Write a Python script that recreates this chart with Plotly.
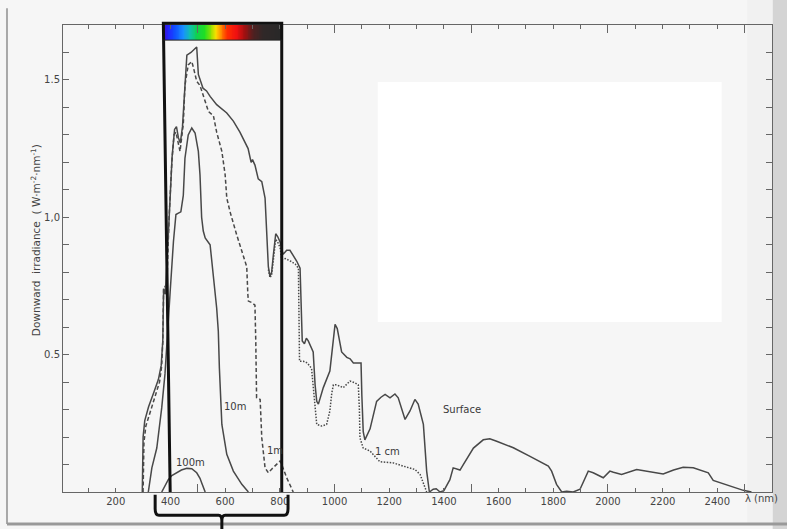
import plotly.graph_objects as go

# ---------------- data ----------------
surface_nm = [297, 300, 306, 320, 340, 356, 366, 372, 375, 381, 388, 397, 406, 415, 422, 429, 436, 444,
              452, 460, 475, 496, 502, 519, 532, 545, 569, 606, 630, 654, 684, 695, 700, 709, 721, 734,
              746, 752, 758, 764, 770, 776, 785, 792, 801, 812, 825, 837, 850, 862, 874, 878, 882, 890,
              897, 904, 916, 922, 929, 935, 941, 950, 959, 983, 995, 1002, 1010, 1018, 1026, 1045, 1057,
              1069, 1097, 1100, 1105, 1111, 1130, 1154, 1170, 1185, 1203, 1221, 1233, 1258, 1276, 1294,
              1306, 1325, 1337, 1347, 1361, 1372, 1386, 1400, 1422, 1434, 1459, 1471, 1508, 1544, 1568,
              1593, 1654, 1715, 1782, 1794, 1812, 1831, 1849, 1873, 1898, 1928, 1946, 1983, 2007, 2020,
              2050, 2105, 2150, 2202, 2240, 2275, 2312, 2367, 2385, 2446, 2495, 2525]
surface_E = [0.0, 0.2, 0.26, 0.31, 0.365, 0.41, 0.46, 0.55, 0.74, 0.72, 0.85, 1.05, 1.22, 1.32, 1.33, 1.29,
             1.27, 1.33, 1.48, 1.59, 1.60, 1.62, 1.52, 1.47, 1.46, 1.44, 1.41, 1.38, 1.35, 1.31, 1.25,
             1.20, 1.21, 1.19, 1.14, 1.13, 1.07, 0.95, 0.82, 0.785, 0.80, 0.86, 0.94, 0.93, 0.91, 0.865,
             0.88, 0.88, 0.86, 0.84, 0.815, 0.62, 0.55, 0.54, 0.56, 0.55, 0.52, 0.51, 0.39, 0.33, 0.32,
             0.35, 0.38, 0.44, 0.56, 0.61, 0.595, 0.55, 0.51, 0.49, 0.485, 0.47, 0.47, 0.35, 0.22, 0.19,
             0.23, 0.33, 0.345, 0.355, 0.343, 0.357, 0.343, 0.264, 0.295, 0.337, 0.32, 0.246, 0.076, 0.0,
             0.01, 0.012, 0.0, 0.005, 0.045, 0.088, 0.08, 0.10, 0.16, 0.19, 0.194, 0.185, 0.161, 0.13,
             0.094, 0.076, 0.028, 0.0, 0.003, 0.0, 0.01, 0.076, 0.07, 0.052, 0.076, 0.072, 0.064, 0.082,
             0.075, 0.066, 0.08, 0.09, 0.088, 0.07, 0.042, 0.022, 0.006, 0.0]

cm1_nm = [758, 764, 770, 776, 785, 792, 801, 807, 820, 840, 856, 868, 870, 872, 886, 900, 916, 922, 929,
          935, 953, 971, 983, 990, 996, 1008, 1032, 1057, 1075, 1087, 1091, 1093, 1105, 1130, 1166, 1215,
          1252, 1294, 1313, 1337]
cm1_E = [0.81, 0.78, 0.79, 0.85, 0.92, 0.91, 0.89, 0.846, 0.85, 0.84, 0.83, 0.815, 0.60, 0.476, 0.476,
         0.47, 0.45, 0.38, 0.32, 0.246, 0.24, 0.246, 0.295, 0.36, 0.39, 0.39, 0.38, 0.404, 0.397, 0.39,
         0.30, 0.197, 0.16, 0.149, 0.11, 0.106, 0.094, 0.082, 0.064, 0.0]

m1_nm = [300, 303, 310, 325, 345, 360, 368, 372, 375, 380, 386, 395, 405, 413, 420, 428, 435, 447, 453,
         465, 478, 484, 496, 508, 527, 539, 557, 569, 588, 600, 606, 618, 642, 667, 679, 683, 685, 697,
         709, 712, 715, 728, 734, 746, 758, 770, 789, 801, 807, 825, 849]
m1_E = [0.0, 0.18, 0.24, 0.29, 0.35, 0.40, 0.46, 0.55, 0.74, 0.75, 0.73, 1.0, 1.2, 1.30, 1.31, 1.27, 1.24,
        1.34, 1.48, 1.555, 1.567, 1.545, 1.495, 1.48, 1.42, 1.385, 1.37, 1.31, 1.24, 1.155, 1.07, 1.02,
        0.937, 0.852, 0.82, 0.72, 0.695, 0.69, 0.68, 0.55, 0.343, 0.337, 0.197, 0.088, 0.07, 0.083, 0.10,
        0.113, 0.10, 0.052, 0.0]

m10_nm = [319, 332, 350, 368, 380, 386, 399, 411, 420, 429, 438, 447, 453, 465, 478, 490, 502, 508, 514,
          520, 527, 545, 557, 569, 575, 579, 588, 606, 630, 661, 685]
m10_E = [0.0, 0.088, 0.16, 0.306, 0.43, 0.54, 0.73, 0.913, 1.01, 1.015, 1.02, 1.08, 1.215, 1.30, 1.325,
         1.307, 1.24, 1.155, 1.0, 0.95, 0.925, 0.90, 0.79, 0.67, 0.585, 0.45, 0.246, 0.137, 0.076, 0.028,
         0.0]

m100_nm = [368, 380, 392, 405, 423, 440, 460, 478, 496, 508, 514, 520, 527]
m100_E = [0.0, 0.025, 0.045, 0.06, 0.07, 0.08, 0.086, 0.085, 0.07, 0.05, 0.034, 0.02, 0.0]

x_ticks = [200, 400, 600, 800, 1000, 1200, 1400, 1600, 1800, 2000, 2200, 2400]
x_long_ticks = [500, 1000, 1500, 2000, 2500]
y_ticks = [0.5, 1.0, 1.5]
y_ticktext = ["0.5", "1,0", "1.5"]

curve_labels = ["Surface", "1 cm", "1m", "10m", "100m"]
label_nm = [1466, 1194, 784, 636, 475]
label_E = [0.30, 0.149, 0.15, 0.31, 0.107]

# visible-spectrum bar (wavelength stop -> colour)
spec_nm = [374, 392, 417, 447, 472, 496, 527, 551, 567, 584, 606, 642, 673, 703, 740, 807]
spec_col = ["#3c14c8", "#2424ff", "#1050ff", "#1890ff", "#10c0b0", "#10d050", "#20e020", "#a0e000",
            "#ffe000", "#ff9000", "#ff3000", "#f01010", "#a01010", "#502020", "#302828", "#282828"]

X_RANGE = [7, 2600]
Y_RANGE = [0, 1.7]
INK = "#484848"

fig = go.Figure()

# spectrum bar as a heatmap
n = 140
lo, hi = spec_nm[0], spec_nm[-1]
edges = [lo + (hi - lo) * i / n for i in range(n + 1)]
centers = [(edges[i] + edges[i + 1]) / 2 for i in range(n)]
cscale = [[(v - lo) / (hi - lo), c] for v, c in zip(spec_nm, spec_col)]
fig.add_trace(go.Heatmap(x=edges, y=[1.645, 1.70], z=[centers], zmin=lo, zmax=hi,
                         colorscale=cscale, showscale=False, hoverinfo="skip"))

LW = 1.5
fig.add_trace(go.Scatter(x=surface_nm, y=surface_E, mode="lines", name="Surface",
                         line=dict(color=INK, width=LW)))
fig.add_trace(go.Scatter(x=cm1_nm, y=cm1_E, mode="lines", name="1 cm",
                         line=dict(color=INK, width=LW, dash="1.5px,1.5px")))
fig.add_trace(go.Scatter(x=m1_nm, y=m1_E, mode="lines", name="1 m",
                         line=dict(color=INK, width=LW, dash="4px,2.5px")))
fig.add_trace(go.Scatter(x=m10_nm, y=m10_E, mode="lines", name="10 m",
                         line=dict(color=INK, width=LW)))
fig.add_trace(go.Scatter(x=m100_nm, y=m100_E, mode="lines", name="100 m",
                         line=dict(color=INK, width=LW)))
# carrier for the overlay axis that draws the long ticks
fig.add_trace(go.Scatter(x=X_RANGE, y=[0, 0], xaxis="x2", mode="lines",
                         line=dict(width=0), hoverinfo="skip", showlegend=False))

for t, xv, yv in zip(curve_labels, label_nm, label_E):
    fig.add_annotation(x=xv, y=yv, text=t, showarrow=False,
                       font=dict(family="DejaVu Sans", size=10, color="#3a3a3a"))

fig.add_annotation(x=2560, xref="x", y=-0.031, yref="paper", text="λ (nm)", showarrow=False,
                   font=dict(family="DejaVu Sans", size=10, color="#444"))
fig.add_annotation(x=-0.039, y=0.54, xref="paper", yref="paper", xanchor="center", yanchor="middle",
                   textangle=-90, showarrow=False,
                   text="Downward  irradiance  ( W·m<sup>-2</sup>·nm<sup>-1</sup>)",
                   font=dict(family="DejaVu Sans", size=10.5, color="#444"))

shapes = []
# whiter scan patch
shapes.append(dict(type="rect", xref="paper", yref="paper", x0=0.444, x1=0.929, y0=0.364, y1=0.878,
                   fillcolor="#ffffff", line=dict(width=0), layer="below"))
# right page edge shading
shapes.append(dict(type="rect", xref="paper", yref="paper", x0=0.965, x1=1.0, y0=-0.07, y1=1.06,
                   fillcolor="rgba(0,0,0,0.02)", line=dict(width=0), layer="below"))
shapes.append(dict(type="rect", xref="paper", yref="paper", x0=1.001, x1=1.03, y0=-0.08, y1=1.06,
                   fillcolor="#d4d4d4", line=dict(width=0), layer="below"))
# scan frame lines
shapes.append(dict(type="line", xref="paper", yref="paper", x0=-0.079, x1=-0.079, y0=1.036, y1=-0.0685,
                   line=dict(color="#a8a8a8", width=2)))
shapes.append(dict(type="line", xref="paper", yref="paper", x0=-0.079, x1=1.03, y0=-0.0685, y1=-0.0685,
                   line=dict(color="#999999", width=3)))
# visible-range box
shapes.append(dict(type="path", xref="x", yref="paper",
                   path=f"M 399,0 L {lo},1.004 L {hi},1.004 L {hi},0",
                   line=dict(color="#111111", width=3)))
shapes.append(dict(type="line", xref="x", yref="y", x0=lo, x1=hi, y0=1.645, y1=1.645,
                   line=dict(color="#222222", width=1)))
# curly brace under the box
bx0, bx1, bxm = 344, 830, 588
shapes.append(dict(type="path", xref="x", yref="paper",
                   path=(f"M {bx0},-0.006 L {bx0},-0.036 Q {bx0},-0.05 {bx0+14},-0.05 "
                         f"L {bxm-12},-0.05 Q {bxm},-0.05 {bxm},-0.062 L {bxm},-0.085 "
                         f"M {bxm},-0.062 Q {bxm},-0.05 {bxm+12},-0.05 "
                         f"L {bx1-14},-0.05 Q {bx1},-0.05 {bx1},-0.036 L {bx1},-0.006"),
                   line=dict(color="#111111", width=3)))

axis_font = dict(family="DejaVu Sans", size=10, color="#444")
fig.update_layout(
    width=787, height=529,
    margin=dict(l=63, r=15, t=25, b=37),
    paper_bgcolor="#f6f6f6", plot_bgcolor="#f6f6f6",
    showlegend=False,
    shapes=shapes,
    xaxis=dict(range=X_RANGE, tickvals=x_ticks, ticks="inside", ticklen=4, tickcolor="#666",
               showline=True, linecolor="#666", linewidth=1, mirror="allticks",
               minor=dict(dtick=100, tick0=0, ticks="inside", ticklen=4, tickcolor="#666"),
               showgrid=False, zeroline=False, tickfont=axis_font),
    xaxis2=dict(range=X_RANGE, overlaying="x", anchor="y", side="bottom", tickvals=x_long_ticks,
                ticks="inside", ticklen=8, tickcolor="#666", showticklabels=False, showline=False,
                mirror="allticks", showgrid=False, zeroline=False),
    yaxis=dict(range=Y_RANGE, tickvals=y_ticks, ticktext=y_ticktext, ticks="inside", ticklen=6,
               tickcolor="#666", showline=True, linecolor="#666", linewidth=1, mirror="allticks",
               minor=dict(dtick=0.1, tick0=0, ticks="inside", ticklen=5, tickcolor="#666"),
               showgrid=False, zeroline=False, tickfont=axis_font),
)

fig.write_html("out.html", config={"displayModeBar": False},
               post_script="document.body.style.margin='0px';document.body.style.overflow='hidden';")
